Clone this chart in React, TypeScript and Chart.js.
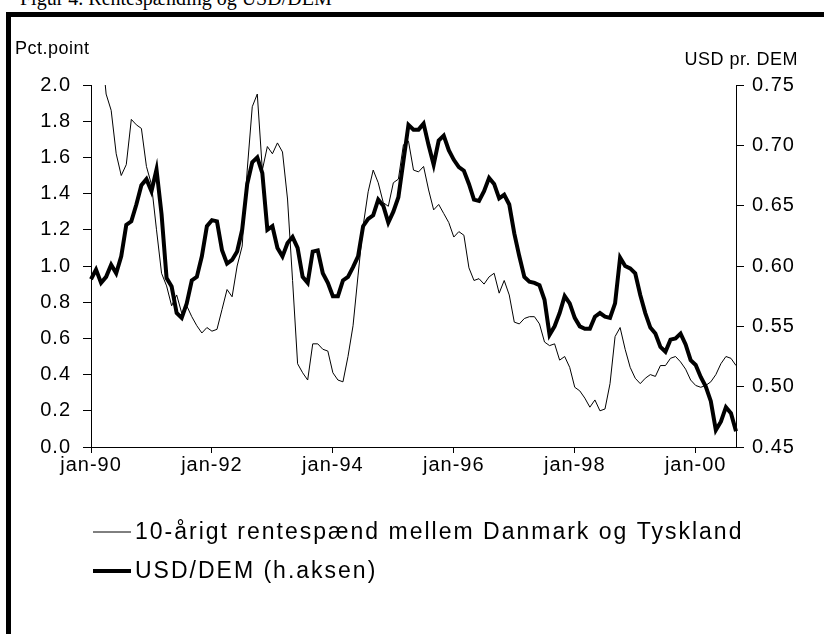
import React, { useEffect, useRef } from "react";
import { Chart, registerables } from "chart.js";

Chart.register(...registerables);

// ---- Data ----
const monthNames = ["jan", "feb", "mar", "apr", "maj", "jun", "jul", "aug", "sep", "okt", "nov", "dec"];
const years = ["90", "91", "92", "93", "94", "95", "96", "97", "98", "99", "00"];
const lastMonthOf2000 = 8; // sep-00

const categories: string[] = [];
years.forEach((yy, yi) => {
  monthNames.forEach((m, mi) => {
    if (yi === years.length - 1 && mi > lastMonthOf2000) return;
    categories.push(`${m}-${yy}`);
  });
});

const labelledTicks = ["jan-90", "jan-92", "jan-94", "jan-96", "jan-98", "jan-00"];

// 10-year yield spread Denmark vs Germany (pct. point), left axis
const spread = [
  2.6, 2.45, 2.25, 1.95, 1.86, 1.62, 1.5, 1.56, 1.81, 1.78, 1.76, 1.55,
  1.45, 1.2, 0.96, 0.89, 0.78, 0.84, 0.74, 0.78, 0.72, 0.67, 0.63, 0.66,
  0.64, 0.65, 0.76, 0.87, 0.83, 1.0, 1.11, 1.53, 1.88, 1.95, 1.53, 1.66,
  1.62, 1.68, 1.63, 1.37, 0.92, 0.46, 0.41, 0.37, 0.57, 0.57, 0.54, 0.53,
  0.41, 0.37, 0.36, 0.5, 0.67, 0.95, 1.22, 1.41, 1.53, 1.46, 1.35, 1.33,
  1.46, 1.48, 1.67, 1.69, 1.53, 1.52, 1.55, 1.42, 1.31, 1.34, 1.29, 1.24,
  1.16, 1.19, 1.17, 0.99, 0.92, 0.93, 0.9, 0.94, 0.96, 0.85, 0.92, 0.84,
  0.69, 0.68, 0.71, 0.72, 0.72, 0.68, 0.58, 0.56, 0.57, 0.48, 0.5, 0.44,
  0.33, 0.31, 0.27, 0.22, 0.26, 0.2, 0.21, 0.35, 0.61, 0.66, 0.54, 0.44,
  0.38, 0.35, 0.38, 0.4, 0.39, 0.45, 0.45, 0.49, 0.5, 0.47, 0.43, 0.37,
  0.34, 0.33, 0.34, 0.36, 0.4, 0.46, 0.5, 0.49, 0.45,
];

// USD per DEM, right axis
const usdDem = [
  0.589, 0.597, 0.586, 0.591, 0.601, 0.594, 0.608, 0.634, 0.637, 0.651, 0.667, 0.672,
  0.662, 0.68, 0.643, 0.59, 0.583, 0.561, 0.557, 0.569, 0.588, 0.591, 0.608, 0.633,
  0.638, 0.637, 0.613, 0.602, 0.605, 0.612, 0.63, 0.668, 0.686, 0.69, 0.677, 0.63,
  0.633, 0.615, 0.608, 0.619, 0.624, 0.615, 0.591, 0.586, 0.612, 0.613, 0.594, 0.586,
  0.575, 0.575, 0.588, 0.591, 0.599, 0.608, 0.633, 0.639, 0.642, 0.655, 0.65, 0.636,
  0.645, 0.657, 0.687, 0.717, 0.713, 0.713, 0.718, 0.7, 0.684, 0.704, 0.708, 0.696,
  0.688, 0.682, 0.679, 0.668, 0.655, 0.654, 0.662, 0.673, 0.668, 0.656, 0.659, 0.651,
  0.627, 0.608, 0.591, 0.587, 0.586, 0.584, 0.572, 0.543, 0.55, 0.561, 0.575, 0.569,
  0.557, 0.55, 0.548, 0.548, 0.558, 0.561, 0.558, 0.557, 0.569, 0.607, 0.6, 0.598,
  0.594, 0.576, 0.561, 0.549, 0.544, 0.533, 0.529, 0.539, 0.54, 0.544, 0.535, 0.522,
  0.518, 0.508, 0.5, 0.488, 0.464, 0.471, 0.483, 0.478, 0.463,
];

const seriesLabels = [
  "10-årigt rentespænd mellem Danmark og Tyskland",
  "USD/DEM (h.aksen)",
];
const leftAxisTitle = "Pct.point";
const rightAxisTitle = "USD pr. DEM";
const headerText = "Figur 4. Rentespænding og USD/DEM";

const FONT = '"Liberation Sans", Arial, sans-serif';

const overlayPlugin = {
  id: "overlay",
  beforeLayout(chart: any) {
    chart.ctx.letterSpacing = "1px";
  },
  beforeDraw(chart: any) {
    chart.ctx.letterSpacing = "1px";
  },
  afterDraw(chart: any) {
    const ctx = chart.ctx;
    ctx.save();
    ctx.fillStyle = "#000";
    ctx.textBaseline = "middle";
    ctx.font = `18px ${FONT}`;
    ctx.letterSpacing = "0.5px";
    ctx.textAlign = "left";
    ctx.fillText(leftAxisTitle, 15, 49);
    ctx.textAlign = "right";
    ctx.fillText(rightAxisTitle, 798, 60);

    const legendY = [532, 571];
    chart.data.datasets.forEach((ds: any, i: number) => {
      const y = legendY[i];
      ctx.beginPath();
      ctx.lineWidth = ds.borderWidth;
      ctx.strokeStyle = ds.borderColor;
      ctx.moveTo(93, y);
      ctx.lineTo(131, y);
      ctx.stroke();
      ctx.font = `23px ${FONT}`;
      ctx.letterSpacing = "2px";
      ctx.textAlign = "left";
      ctx.fillStyle = "#000";
      ctx.fillText(ds.label, 135, y + 1);
    });
    ctx.restore();
  },
};

export default function App() {
  const canvasRef = useRef<HTMLCanvasElement | null>(null);

  useEffect(() => {
    const canvas = canvasRef.current;
    if (!canvas) return;
    const tickFont = { family: FONT, size: 20 };
    const chart = new Chart(canvas, {
      type: "line",
      data: {
        labels: categories,
        datasets: [
          {
            label: seriesLabels[0],
            data: spread,
            yAxisID: "y",
            borderColor: "#000",
            borderWidth: 1,
            pointRadius: 0,
            tension: 0,
            fill: false,
            order: 2,
          },
          {
            label: seriesLabels[1],
            data: usdDem,
            yAxisID: "y1",
            borderColor: "#000",
            borderWidth: 4,
            pointRadius: 0,
            tension: 0,
            fill: false,
            order: 1,
          },
        ],
      },
      options: {
        animation: false,
        responsive: false,
        devicePixelRatio: 1,
        layout: { padding: { top: 85, bottom: 127, left: 0, right: 0 } },
        plugins: {
          legend: { display: false },
          tooltip: { enabled: false },
          title: { display: false },
        },
        scales: {
          x: {
            type: "category",
            offset: false,
            grid: {
              display: true,
              drawOnChartArea: false,
              drawTicks: true,
              tickLength: 6,
              lineWidth: 1,
              color: (c: any) =>
                labelledTicks.includes(categories[c.index]) ? "#000" : "rgba(0,0,0,0)",
            },
            border: { display: true, color: "#000", width: 1 },
            ticks: {
              autoSkip: false,
              maxRotation: 0,
              minRotation: 0,
              color: "#000",
              font: tickFont,
              padding: 0,
              callback: (_v: any, i: number) =>
                labelledTicks.includes(categories[i]) ? categories[i] : "",
            },
            afterFit: (s: any) => {
              s.height = 60;
            },
          },
          y: {
            position: "left",
            min: 0,
            max: 2,
            grid: { drawOnChartArea: false, drawTicks: true, tickLength: 8, color: "#000" },
            border: { display: true, color: "#000", width: 1 },
            ticks: {
              stepSize: 0.2,
              color: "#000",
              font: tickFont,
              padding: 12,
              callback: (v: any) => Number(v).toFixed(1),
            },
            afterFit: (s: any) => {
              s.width = 91;
            },
          },
          y1: {
            position: "right",
            min: 0.45,
            max: 0.75,
            grid: { drawOnChartArea: false, drawTicks: true, tickLength: 8, color: "#000" },
            border: { display: true, color: "#000", width: 1 },
            ticks: {
              stepSize: 0.05,
              color: "#000",
              font: tickFont,
              padding: 8,
              callback: (v: any) => Number(v).toFixed(2),
            },
            afterFit: (s: any) => {
              s.width = 88;
            },
          },
        },
      },
      plugins: [overlayPlugin],
    });
    return () => chart.destroy();
  }, []);

  return (
    <div
      style={{
        position: "fixed",
        left: 0,
        top: 0,
        width: 824,
        height: 634,
        overflow: "hidden",
        background: "#fff",
      }}
    >
      <div
        style={{
          position: "absolute",
          left: 20,
          top: -13,
          fontFamily: '"Liberation Serif", "DejaVu Serif", serif',
          fontSize: 20,
          whiteSpace: "nowrap",
          color: "#000",
        }}
      >
        {headerText}
      </div>
      <div
        style={{
          position: "absolute",
          left: 6,
          top: 12,
          width: 900,
          height: 700,
          borderLeft: "5px solid #000",
          borderTop: "5px solid #000",
        }}
      />
      <canvas
        ref={canvasRef}
        width={824}
        height={634}
        style={{ position: "absolute", left: 0, top: 0, width: 824, height: 634 }}
      />
    </div>
  );
}
